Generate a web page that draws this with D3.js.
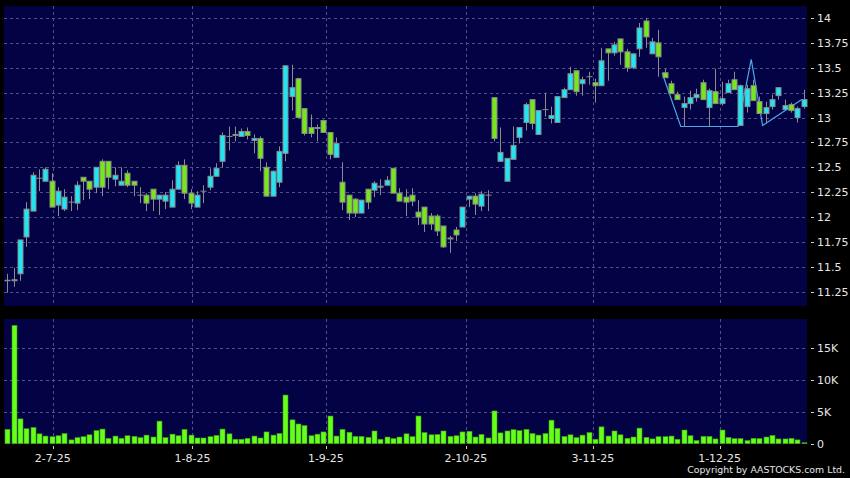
<!DOCTYPE html>
<html><head><meta charset="utf-8">
<script src="https://cdn.jsdelivr.net/npm/d3@7"></script>
<style>html,body{margin:0;padding:0;background:#000;}svg{display:block;}</style>
</head><body>
<svg id="chart" width="850" height="478"></svg>
<script>
// ---- data ----
const open  = [11.365,11.36,11.43,11.80,12.06,12.39,12.36,12.36,12.12,12.08,12.15,12.14,12.40,12.36,12.30,12.56,12.56,12.38,12.32,12.44,12.36,12.22,12.22,12.28,12.18,12.16,12.10,12.28,12.52,12.24,12.10,12.26,12.30,12.41,12.56,12.81,12.82,12.81,12.86,12.77,12.79,12.50,12.21,12.35,12.64,13.21,13.39,13.09,12.90,12.89,12.97,12.85,12.60,12.35,12.22,12.18,12.04,12.28,12.27,12.30,12.32,12.49,12.24,12.20,12.22,12.05,12.10,12.01,12.01,11.91,11.79,11.87,11.90,12.18,12.21,12.11,12.22,13.20,12.56,12.36,12.58,12.80,12.95,13.18,12.83,13.08,12.99,12.95,13.20,13.28,13.47,13.34,13.41,13.35,13.32,13.69,13.65,13.79,13.66,13.50,13.69,13.97,13.64,13.75,13.45,13.34,13.23,13.10,13.14,13.20,13.35,13.10,13.26,13.14,13.25,13.38,12.92,13.11,13.32,13.16,13.04,13.11,13.22,13.08,13.13,13.00,13.11];
const high  = [11.43,11.49,11.77,12.15,12.45,12.48,12.50,12.44,12.30,12.28,12.21,12.36,12.40,12.36,12.50,12.58,12.56,12.50,12.50,12.47,12.36,12.30,12.24,12.28,12.22,12.25,12.37,12.56,12.58,12.28,12.26,12.32,12.49,12.54,12.85,12.91,12.91,12.89,12.90,12.83,12.81,12.55,12.47,12.71,13.52,13.53,13.40,13.09,13.03,12.93,12.98,12.85,12.80,12.55,12.22,12.19,12.17,12.28,12.36,12.38,12.41,12.49,12.29,12.28,12.29,12.17,12.10,12.04,12.03,11.91,11.81,11.90,12.10,12.21,12.24,12.26,12.27,13.20,12.90,12.59,12.91,12.90,13.15,13.18,13.07,13.25,13.11,13.21,13.30,13.51,13.47,13.41,13.46,13.39,13.70,13.69,13.76,13.79,13.69,13.64,13.95,14.00,13.80,13.88,13.49,13.37,13.26,13.21,13.27,13.29,13.38,13.29,13.49,13.36,13.38,13.46,13.33,13.33,13.38,13.21,13.16,13.23,13.30,13.18,13.15,13.11,13.28];
const low   = [11.24,11.30,11.36,11.70,12.06,12.26,12.36,12.10,12.01,12.06,12.06,12.07,12.17,12.18,12.24,12.21,12.28,12.31,12.32,12.30,12.21,12.14,12.06,12.06,12.02,12.08,12.10,12.28,12.18,12.08,12.10,12.14,12.27,12.41,12.50,12.67,12.76,12.81,12.78,12.64,12.46,12.21,12.21,12.30,12.56,13.07,13.00,12.82,12.80,12.76,12.85,12.58,12.60,12.07,11.97,12.00,12.04,12.08,12.20,12.22,12.32,12.24,12.16,12.01,12.11,11.92,11.85,11.87,11.81,11.69,11.64,11.76,11.90,12.10,12.02,12.06,12.06,12.76,12.56,12.36,12.58,12.74,12.87,12.88,12.83,13.01,12.94,12.95,13.20,13.28,13.22,13.22,13.33,13.15,13.32,13.37,13.62,13.53,13.46,13.49,13.61,13.70,13.64,13.41,13.40,13.24,13.18,12.91,13.08,13.16,13.18,12.91,13.14,13.12,13.25,13.28,12.92,13.05,13.17,13.04,12.94,13.08,13.18,13.08,13.05,12.95,13.09];
const close = [11.36,11.37,11.77,12.08,12.42,12.39,12.48,12.10,12.26,12.20,12.15,12.32,12.36,12.28,12.50,12.30,12.40,12.42,12.36,12.32,12.32,12.22,12.14,12.18,12.22,12.22,12.28,12.52,12.24,12.14,12.22,12.26,12.41,12.49,12.82,12.81,12.83,12.86,12.82,12.79,12.59,12.21,12.46,12.66,13.52,13.30,13.00,12.84,12.84,12.90,12.85,12.63,12.74,12.15,12.04,12.04,12.17,12.15,12.34,12.31,12.37,12.24,12.16,12.15,12.16,12.00,11.93,11.93,11.86,11.70,11.78,11.82,12.10,12.21,12.13,12.23,12.22,12.79,12.65,12.59,12.72,12.90,13.13,12.94,13.07,13.08,13.02,13.21,13.28,13.44,13.26,13.38,13.41,13.32,13.57,13.65,13.73,13.66,13.50,13.64,13.90,13.81,13.76,13.61,13.40,13.24,13.18,13.14,13.20,13.23,13.18,13.27,13.14,13.19,13.34,13.28,13.32,13.29,13.17,13.04,13.10,13.18,13.30,13.12,13.07,13.09,13.18];
const volumeK = [2.25,18.6,3.9,2.35,2.55,1.55,1.2,1.1,1.25,1.6,0.6,0.95,1.1,1.4,2.05,2.3,0.85,1.2,0.85,1.25,1.15,0.95,1.35,1.05,3.55,0.95,1.5,1.25,2.25,1.35,0.9,0.9,1.1,1.3,2.3,1.55,0.7,0.7,0.85,1.2,0.9,1.85,1.35,1.6,7.65,3.75,3.1,2.85,1.25,1.5,1.85,4.35,1.2,2.25,1.8,1.15,1.15,1.0,2.0,0.7,1.05,0.8,1.05,1.55,1.1,4.35,1.75,1.4,1.45,2.0,1.15,1.25,1.85,1.95,1.05,1.45,0.9,5.15,1.7,2.0,2.2,2.05,2.25,1.6,1.35,1.6,3.7,2.4,1.15,1.4,0.95,1.35,1.75,0.7,2.65,1.2,2.0,1.4,0.85,1.05,2.45,1.0,0.75,1.1,1.1,1.2,0.7,2.15,1.25,0.5,1.15,1.15,0.75,2.15,1.0,0.8,0.8,0.5,0.85,0.8,1.05,1.3,0.75,0.75,0.85,0.6,0.15];
const tickLabels = ["2-7-25","1-8-25","1-9-25","2-10-25","3-11-25","1-12-25"];
const tickIndex  = [7.2, 29.3, 50.4, 72.55, 92.65, 112.7];
const priceTicks = [11.25,11.5,11.75,12,12.25,12.5,12.75,13,13.25,13.5,13.75,14];
const volTicks = [0,5000,10000,15000];
const lineIndex = [103.6,106.55,115.6,117.7,119.5,125.7];
const linePrice = [13.45,12.91,12.91,13.585,12.92,13.18];

const N = close.length;
const svg = d3.select("#chart");
const W = 850, H = 478;
const panelL = 4, panelR = 807;
const pTop = 6, pBot = 306, vTop = 319, vBot = 444;

svg.append("rect").attr("width",W).attr("height",H).attr("fill","#000");

const x = d3.scaleLinear().domain([0, N-1]).range([7.3, 803.7]);
const y = d3.scaleLinear().domain([11.25, 14]).range([291.7, 18]);
const yv = d3.scaleLinear().domain([0, 15000]).range([443.7, 348.3]);

const BG = "#020244", GRID = "#51518a";
svg.append("rect").attr("x",panelL).attr("y",pTop).attr("width",panelR-panelL).attr("height",pBot-pTop).attr("fill",BG);
svg.append("rect").attr("x",panelL).attr("y",vTop).attr("width",panelR-panelL).attr("height",vBot-vTop).attr("fill",BG);

// grids
const g = svg.append("g").attr("stroke",GRID).attr("stroke-width",1).attr("stroke-dasharray","3,3");
priceTicks.forEach(p=>{ const yy=Math.round(y(p))+0.5;
  g.append("line").attr("x1",panelL).attr("x2",panelR).attr("y1",yy).attr("y2",yy);});
volTicks.filter(v=>v>0).forEach(v=>{ const yy=Math.round(yv(v))+0.5;
  g.append("line").attr("x1",panelL).attr("x2",panelR).attr("y1",yy).attr("y2",yy);});
tickIndex.forEach(t=>{ const xx=Math.round(x(t))+0.5;
  g.append("line").attr("x1",xx).attr("x2",xx).attr("y1",pTop).attr("y2",pBot);
  g.append("line").attr("x1",xx).attr("x2",xx).attr("y1",vTop).attr("y2",vBot);});

// trend line
const line = d3.line().x(d=>x(d[0])).y(d=>y(d[1]));
svg.append("path").datum(lineIndex.map((d,i)=>[d,linePrice[i]]))
  .attr("d",line).attr("fill","none").attr("stroke","#4aa8e8").attr("stroke-width",1.2);

// candles
const idx = d3.range(N);
const cg = svg.append("g");
cg.selectAll("line.w").data(idx).join("line")
  .attr("x1",i=>Math.round(x(i))+0.5).attr("x2",i=>Math.round(x(i))+0.5)
  .attr("y1",i=>y(high[i])).attr("y2",i=>y(low[i]))
  .attr("stroke","#8c8c8c").attr("stroke-width",1);
cg.selectAll("rect.b").data(idx).join("rect")
  .attr("x",i=>Math.round(x(i))-2)
  .attr("width",5)
  .attr("y",i=>y(Math.max(open[i],close[i])))
  .attr("height",i=>Math.max(0.01,Math.abs(y(open[i])-y(close[i]))))
  .attr("fill",i=> close[i]>open[i] ? "#1ee6f5" : (close[i]<open[i] ? "#76e818" : "#8c8c8c"))
  .attr("stroke","#8a8a8a").attr("stroke-width",1);

// volume
svg.append("g").selectAll("rect").data(idx).join("rect")
  .attr("x",i=>Math.round(x(i))-2).attr("width",5)
  .attr("y",i=>yv(volumeK[i]*1000)).attr("height",i=>yv(0)-yv(volumeK[i]*1000))
  .attr("fill","#66ff1a").attr("stroke","#3f9a12").attr("stroke-width",0.6);

// right axes
const fmtP = d3.format("");
const ax = svg.append("g").attr("font-family","DejaVu Sans, Verdana, sans-serif").attr("font-size",11).attr("fill","#e6e6e6");
priceTicks.forEach(p=>{
  ax.append("line").attr("x1",811).attr("x2",814).attr("y1",Math.round(y(p))+0.5).attr("y2",Math.round(y(p))+0.5).attr("stroke","#ccc");
  ax.append("text").attr("x",817).attr("y",y(p)+4).text(fmtP(p));
});
volTicks.forEach(v=>{
  ax.append("line").attr("x1",811).attr("x2",814).attr("y1",Math.round(yv(v))+0.5).attr("y2",Math.round(yv(v))+0.5).attr("stroke","#ccc");
  ax.append("text").attr("x",817).attr("y",yv(v)+4).text(v===0?"0":(v/1000)+"K");
});
// bottom axis
tickIndex.forEach((t,k)=>{
  const xx=Math.round(x(t))+0.5;
  ax.append("line").attr("x1",xx).attr("x2",xx).attr("y1",446).attr("y2",449).attr("stroke","#ccc");
  ax.append("text").attr("x",x(t)).attr("y",462).attr("text-anchor","middle").text(tickLabels[k]);
});
ax.append("text").attr("x",845).attr("y",473).attr("text-anchor","end").attr("font-size",9.4)
  .text("Copyright by AASTOCKS.com Ltd.");
</script>
</body></html>
